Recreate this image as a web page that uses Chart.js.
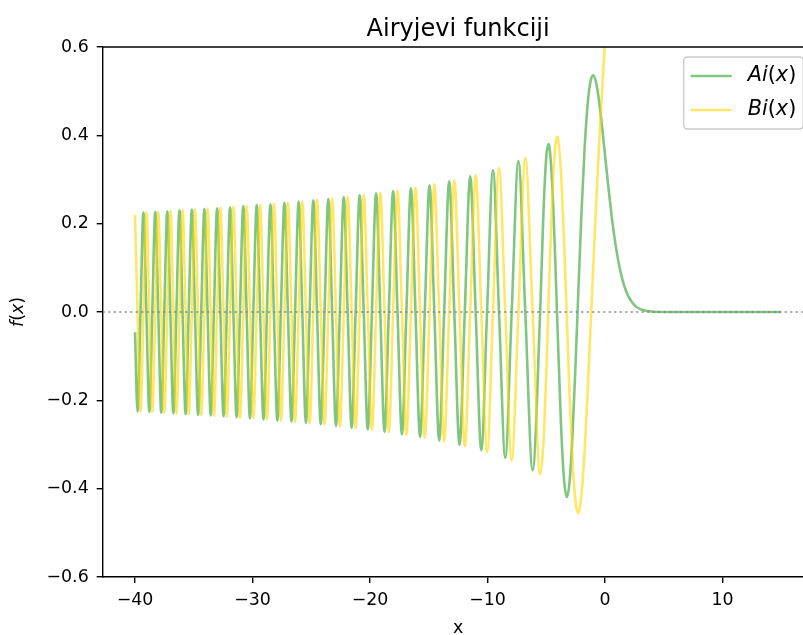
<!DOCTYPE html>
<html><head><meta charset="utf-8">
<script src="https://cdn.jsdelivr.net/npm/chart.js@4.4.0/dist/chart.umd.min.js"></script>
<style>
html,body{margin:0;padding:0;overflow:hidden;background:#fff;width:803px;height:635px;}
#wrap{position:absolute;left:0;top:0;width:916px;height:635px;}
</style></head><body>
<div id="wrap"><canvas id="c" width="916" height="635"></canvas></div>
<script>
const titleText = 'Airyjevi funkciji';
const xLabel = 'x';
const yLabel = 'f(x)';
const seriesNames = ['Ai(x)', 'Bi(x)'];
const xTicks = [-40, -30, -20, -10, 0, 10];
const xTickLabels = ['−40', '−30', '−20', '−10', '0', '10'];
const yTicks = [-0.6, -0.4, -0.2, 0, 0.2, 0.4, 0.6];
const yTickLabels = ['−0.6', '−0.4', '−0.2', '0.0', '0.2', '0.4', '0.6'];
const xRange = [-42.75, 17.75];
const yRange = [-0.6, 0.6];

// sample positions for x <= 0 (shared by both curves)
const xNeg = [-40,-39.784,-39.534,-39.284,-39.033,-38.781,-38.529,-38.275,-38.021,-37.766,
-37.510,-37.253,-36.995,-36.736,-36.477,-36.216,-35.955,-35.692,-35.429,-35.164,
-34.899,-34.633,-34.365,-34.097,-33.827,-33.556,-33.285,-33.012,-32.738,-32.463,
-32.187,-31.909,-31.631,-31.350,-31.069,-30.787,-30.503,-30.218,-29.932,-29.644,
-29.355,-29.064,-28.772,-28.478,-28.183,-27.887,-27.588,-27.288,-26.987,-26.684,
-26.379,-26.072,-25.763,-25.453,-25.141,-24.826,-24.510,-24.192,-23.871,-23.549,
-23.224,-22.897,-22.567,-22.236,-21.901,-21.564,-21.225,-20.882,-20.537,-20.189,
-19.838,-19.484,-19.126,-18.765,-18.401,-18.033,-17.661,-17.285,-16.905,-16.521,
-16.132,-15.739,-15.340,-14.936,-14.527,-14.112,-13.691,-13.263,-12.829,-12.385,
-11.936,-11.475,-11.009,-10.528,-10.040,-9.535,-9.023,-8.488,-7.944,-7.372,
-6.787,-6.163,-5.521,-5.25,-5.0,-4.820,-4.75,-4.5,-4.25,-4.073,
-4.0,-3.75,-3.5,-3.248,-3.0,-2.75,-2.5,-2.294,-2.25,-2.0,
-1.75,-1.5,-1.25,-1.019,-1.0,-0.75,-0.5,-0.25,0];
const aiNeg = [-0.046,-0.225,0,0.225,0,-0.226,0,0.227,0,-0.228,
0,0.228,0,-0.229,0,0.230,0,-0.231,0,0.232,
0,-0.233,0,0.233,0,-0.234,0,0.235,0,-0.236,
0,0.237,0,-0.238,0,0.240,0,-0.241,0,0.242,
0,-0.243,0,0.244,0,-0.246,0,0.247,0,-0.248,
0,0.250,0,-0.251,0,0.253,0,-0.254,0,0.256,
0,-0.258,0,0.260,0,-0.262,0,0.264,0,-0.266,
0,0.269,0,-0.271,0,0.274,0,-0.277,0,0.280,
0,-0.283,0,0.287,0,-0.291,0,0.296,0,-0.301,
0,0.307,0,-0.313,0,0.321,0,-0.330,0,0.342,
0,-0.358,0,0.219,0.351,0.380,0.376,0.292,0.128,-0.013,
-0.070,-0.252,-0.376,-0.419,-0.379,-0.268,-0.112,0.031,0.062,0.227,
0.365,0.464,0.520,0.536,0.536,0.518,0.476,0.419,0.355];
const biNeg = [0.220,0,-0.225,0,0.226,0,-0.226,0,0.227,0,
-0.228,0,0.229,0,-0.230,0,0.230,0,-0.231,0,
0.232,0,-0.233,0,0.234,0,-0.235,0,0.236,0,
-0.237,0,0.238,0,-0.239,0,0.240,0,-0.241,0,
0.242,0,-0.244,0,0.245,0,-0.246,0,0.248,0,
-0.249,0,0.250,0,-0.252,0,0.254,0,-0.255,0,
0.257,0,-0.259,0,0.261,0,-0.263,0,0.265,0,
-0.267,0,0.270,0,-0.272,0,0.275,0,-0.278,0,
0.282,0,-0.285,0,0.289,0,-0.293,0,0.298,0,
-0.304,0,0.310,0,-0.317,0,0.326,0,-0.336,0,
0.349,0,-0.368,-0.301,-0.138,0.009,0.067,0.254,0.372,0.397,
0.392,0.318,0.169,-0.015,-0.198,-0.344,-0.432,-0.455,-0.454,-0.412,
-0.320,-0.192,-0.046,0.093,0.104,0.248,0.380,0.501,0.615];
const xAiPos = [0.25,0.5,0.75,1,1.25,1.5,1.75,2,2.5,3,3.5,4,5,6,8,10,12,15];
const aiPos = [0.291,0.232,0.179,0.135,0.0996,0.0717,0.0505,0.0349,0.0157,0.0066,0.0026,0.0010,0.0001,0,0,0,0,0];
const xBiPos = [0.25,0.5];
const biPos = [0.729,0.854];

const FONT = '"DejaVu Sans", "Liberation Sans", sans-serif';
const aiColor = 'rgba(44,160,44,0.6)';
const biColor = 'rgba(255,215,0,0.6)';
const zeroColor = 'rgba(128,128,128,0.7)';

const aiData = xNeg.map((x, i) => ({x: x, y: aiNeg[i]})).concat(xAiPos.map((x, i) => ({x: x, y: aiPos[i]})));
const biData = xNeg.map((x, i) => ({x: x, y: biNeg[i]})).concat(xBiPos.map((x, i) => ({x: x, y: biPos[i]})));
const zeroData = [{x: xRange[0], y: 0}, {x: xRange[1], y: 0}];

function mathParts(s) {
  const parts = [];
  for (const ch of s) parts.push([ch, /[A-Za-z]/.test(ch)]);
  return parts;
}
function mathWidth(ctx, s, size) {
  let w = 0;
  for (const [t, it] of mathParts(s)) {
    ctx.font = (it ? 'italic ' : '') + size + 'px ' + FONT;
    w += ctx.measureText(t).width;
  }
  return w;
}
function drawMath(ctx, s, x, y, size) {
  let cx = x;
  ctx.textAlign = 'left';
  ctx.textBaseline = 'middle';
  for (const [t, it] of mathParts(s)) {
    ctx.font = (it ? 'italic ' : '') + size + 'px ' + FONT;
    ctx.fillText(t, cx, y);
    cx += ctx.measureText(t).width;
  }
}

const extras = {
  id: 'extras',
  afterDatasetsDraw(chart) {
    const {ctx, chartArea: a} = chart;
    ctx.save();
    // top & right spines
    ctx.strokeStyle = '#000';
    ctx.lineWidth = 1.4;
    ctx.beginPath();
    ctx.moveTo(a.left, a.top);
    ctx.lineTo(a.right, a.top);
    ctx.lineTo(a.right, a.bottom);
    ctx.stroke();
    // legend
    const boxW = 119.5, boxH = 72;
    const x0 = a.right - 10.4 - boxW, y0 = a.top + 10;
    const r = 4;
    ctx.beginPath();
    ctx.moveTo(x0 + r, y0);
    ctx.lineTo(x0 + boxW - r, y0);
    ctx.quadraticCurveTo(x0 + boxW, y0, x0 + boxW, y0 + r);
    ctx.lineTo(x0 + boxW, y0 + boxH - r);
    ctx.quadraticCurveTo(x0 + boxW, y0 + boxH, x0 + boxW - r, y0 + boxH);
    ctx.lineTo(x0 + r, y0 + boxH);
    ctx.quadraticCurveTo(x0, y0 + boxH, x0, y0 + boxH - r);
    ctx.lineTo(x0, y0 + r);
    ctx.quadraticCurveTo(x0, y0, x0 + r, y0);
    ctx.closePath();
    ctx.fillStyle = 'rgba(255,255,255,0.8)';
    ctx.fill();
    ctx.strokeStyle = '#cccccc';
    ctx.lineWidth = 1.4;
    ctx.stroke();
    const colors = [aiColor, biColor];
    const rows = [y0 + 19, y0 + 53];
    seriesNames.forEach((name, i) => {
      ctx.strokeStyle = colors[i];
      ctx.lineWidth = 2.6;
      ctx.beginPath();
      ctx.moveTo(x0 + 7, rows[i]);
      ctx.lineTo(x0 + 48, rows[i]);
      ctx.stroke();
      ctx.fillStyle = '#000';
      drawMath(ctx, name, x0 + 64, rows[i], 20.8);
    });
    // y axis label
    ctx.save();
    ctx.translate(18, (a.top + a.bottom) / 2);
    ctx.rotate(-Math.PI / 2);
    ctx.fillStyle = '#000';
    const w = mathWidth(ctx, yLabel, 17.4);
    drawMath(ctx, yLabel, -w / 2, 0, 17.4);
    ctx.restore();
    ctx.restore();
  }
};

const tickFont = {family: FONT, size: 17.4};

new Chart(document.getElementById('c'), {
  type: 'line',
  data: {
    datasets: [
      {label: 'zero', data: zeroData, borderColor: zeroColor, borderWidth: 2.1, borderDash: [2.1, 3.4],
       pointRadius: 0, tension: 0, order: 0, clip: 0},
      {label: seriesNames[1], data: biData, borderColor: biColor, borderWidth: 2.6, pointRadius: 0,
       cubicInterpolationMode: 'monotone', fill: false, order: 1, clip: 0},
      {label: seriesNames[0], data: aiData, borderColor: aiColor, borderWidth: 2.6, pointRadius: 0,
       cubicInterpolationMode: 'monotone', fill: false, order: 2, clip: 0}
    ]
  },
  options: {
    responsive: false,
    animation: false,
    devicePixelRatio: 1,
    events: [],
    layout: {padding: {left: 0, right: 102.4, top: 0, bottom: 0}},
    plugins: {
      legend: {display: false},
      tooltip: {enabled: false},
      title: {display: true, fullSize: false, text: titleText, color: '#000',
              font: {family: FONT, size: 24, weight: 'normal'},
              padding: {top: 15, bottom: 3.2}}
    },
    scales: {
      x: {
        type: 'linear', min: xRange[0], max: xRange[1], bounds: 'data',
        afterBuildTicks: (s) => { s.ticks = xTicks.map(v => ({value: v})); },
        afterFit: (s) => { s.height = 58; },
        grid: {display: true, drawOnChartArea: false, drawTicks: true, tickLength: 6, color: '#000', lineWidth: 1.4},
        border: {display: true, color: '#000', width: 1.4},
        ticks: {autoSkip: false, maxRotation: 0, padding: 7, color: '#000', font: tickFont,
                callback: (v) => xTickLabels[xTicks.indexOf(v)]},
        title: {display: true, text: xLabel, color: '#000', font: tickFont, padding: {top: 0, bottom: -4}}
      },
      y: {
        type: 'linear', min: yRange[0], max: yRange[1], bounds: 'data',
        afterBuildTicks: (s) => { s.ticks = yTicks.map(v => ({value: v})); },
        afterFit: (s) => { s.width = 102.7; },
        grid: {display: true, drawOnChartArea: false, drawTicks: true, tickLength: 6, color: '#000', lineWidth: 1.4},
        border: {display: true, color: '#000', width: 1.4},
        ticks: {autoSkip: false, padding: 8, color: '#000', font: tickFont,
                callback: (v) => yTickLabels[yTicks.indexOf(v)]}
      }
    }
  },
  plugins: [extras]
});
</script>
</body></html>
